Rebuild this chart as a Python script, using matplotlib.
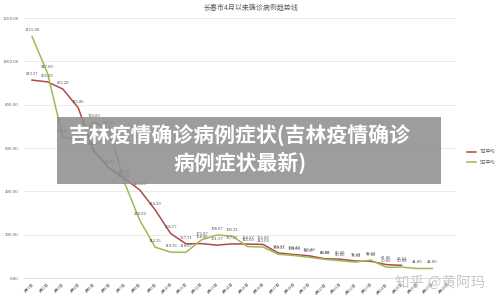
import numpy as np
import matplotlib.pyplot as plt
from matplotlib.patches import Rectangle

plt.rcParams['font.family'] = ['Noto Sans CJK SC', 'DejaVu Sans']

dates = ['4月%d日' % d for d in range(1, 29)]
avg7 = [913.57, 905.29, 872.29, 785.86, 588.71, 508.43, 460.00, 406.29, 314.29,
        205.57, 157.71, 158.86, 151.57, 157.57, 156.57, 155.00, 115.57, 108.43,
        102.43, 89.09, 86.80, 78.49, 77.00, 61.86, 58.44]
avg5 = [1115.00, 947.00, 650.67, 636.00, 720.00, 685.33, 441.00, 266.00, 142.33,
        119.33, 118.67, 175.67, 198.67, 193.33, 145.00, 143.00, 109.33, 104.00,
        95.57, 86.00, 80.00, 73.33, 82.67, 50.00, 50.00, 44.00, 44.00]
yticks = [0, 200, 400, 600, 800, 1000, 1200]

red = '#b04a47'
green = '#9bbb59'

fig = plt.figure(figsize=(5, 3.03), dpi=100)
ax = fig.add_axes([0.0486, 0.0825, 0.8624, 0.858])

x7 = np.arange(len(avg7))
x5 = np.arange(len(avg5))
ax.plot(x7, avg7, color=red, lw=1.1, label='7日平均', zorder=3)
ax.plot(x5, avg5, color=green, lw=1.1, label='5日平均', zorder=3)

for xs, ys in ((x7, avg7), (x5, avg5)):
    for xi, yi in zip(xs, ys):
        ax.annotate('%.2f' % yi, (xi, yi), xytext=(0, 3), textcoords='offset points',
                    ha='center', va='bottom', fontsize=2.6, color='#404040',
                    family='DejaVu Serif', zorder=4)

ax.set_xlim(-0.5, len(dates) - 0.5)
ax.set_ylim(0, 1200)
ax.set_yticks(yticks)
ax.set_yticklabels(['%.2f' % v for v in yticks], fontsize=2.8, color='#595959',
                   family='DejaVu Serif')
ax.set_xticks(np.arange(len(dates)))
ax.set_xticklabels(dates, rotation=45, ha='right', rotation_mode='anchor',
                   fontsize=2.8, color='#595959')
ax.tick_params(axis='y', length=0, pad=4)
ax.tick_params(axis='x', length=0, pad=3)
ax.grid(axis='y', color='#e8e8e8', lw=0.6)
for s in ['top', 'right', 'left']:
    ax.spines[s].set_visible(False)
ax.spines['bottom'].set_color('#d9d9d9')
ax.spines['bottom'].set_linewidth(0.6)
ax.set_axisbelow(True)

fig.text(0.502, 0.972, '长春市4月以来确诊病例趋势线', ha='center', va='center',
         fontsize=5, color='#595959')

fig.legend(loc='upper left', bbox_to_anchor=(0.925, 0.52), frameon=False,
           fontsize=3.2, handlelength=2.2, labelspacing=1.2, labelcolor='#595959')

# overlay banner
fig.patches.append(Rectangle((57 / 500, 1 - 184 / 303), 384 / 500, 67 / 303,
                             transform=fig.transFigure, facecolor='#8c8c8c',
                             alpha=0.85, edgecolor='none', zorder=10))
fig.text(0.48, 1 - 136 / 303, '吉林疫情确诊病例症状(吉林疫情确诊', ha='center', va='center',
         fontsize=15, color='white', fontweight='bold', zorder=11)
fig.text(0.48, 1 - 163 / 303, '病例症状最新)', ha='center', va='center',
         fontsize=15, color='white', fontweight='bold', zorder=11)

fig.text(0.88, 1 - 283 / 303, '知乎 @黄阿玛', ha='center', va='center',
         fontsize=10.5, color='#c8c8c8', zorder=11)

fig.savefig('out.png', dpi=100)
plt.close(fig)
